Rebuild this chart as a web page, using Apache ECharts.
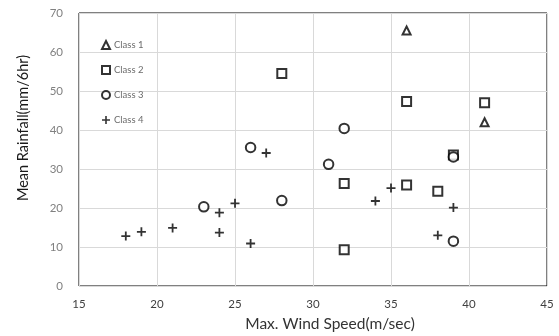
<!DOCTYPE html>
<html><head><meta charset="utf-8">
<script src="https://cdn.jsdelivr.net/npm/echarts@6/dist/echarts.min.js"></script>
<style>html,body{margin:0;padding:0;background:#fff}#c{width:559px;height:336px}</style>
</head><body><div id="c"></div>
<script>
const xTicks = [15, 20, 25, 30, 35, 40, 45];
const yTicks = [0, 10, 20, 30, 40, 50, 60, 70];
const class1 = [[36, 65.5], [41, 42]];
const class2 = [[28, 54.5], [36, 47.3], [41, 47], [39, 33.6], [32, 26.3], [36, 25.9], [38, 24.3], [32, 9.3]];
const class3 = [[26, 35.5], [32, 40.4], [31, 31.2], [39, 33.1], [28, 21.9], [23, 20.3], [39, 11.5]];
const class4 = [[27, 34.1], [25, 21.2], [24, 18.8], [24, 13.7], [26, 10.9], [18, 12.8], [19, 13.9], [21, 14.9], [34, 21.8], [35, 25.1], [39, 20.1], [38, 13]];

const crossPath = 'path://M4,0 H6 V4 H10 V6 H6 V10 H4 V6 H0 V4 H4 Z';
const FONT = 'Lato';
const chart = echarts.init(document.getElementById('c'));
const mk = (name, data, symbol, size, filled) => ({
  name, type: 'scatter', data, symbol, symbolSize: size,
  itemStyle: filled ? {color: '#000', borderWidth: 0} : {color: '#fff', borderColor: '#000', borderWidth: 2},
  emphasis: {disabled: true}
});
chart.setOption({
  animation: false,
  textStyle: {fontFamily: FONT},
  grid: {left: 79, right: 12, top: 13, bottom: 50, show: true, borderColor: '#000', borderWidth: 1, backgroundColor: 'transparent'},
  xAxis: {
    type: 'value', min: xTicks[0], max: xTicks[xTicks.length - 1], interval: 5,
    axisLine: {show: false}, axisTick: {show: false},
    splitLine: {show: true, lineStyle: {color: '#d9d9d9', width: 1}},
    axisLabel: {color: '#404040', fontSize: 11.5, margin: 12, fontFamily: FONT}
  },
  yAxis: {
    type: 'value', min: yTicks[0], max: yTicks[yTicks.length - 1], interval: 10,
    axisLine: {show: false}, axisTick: {show: false},
    splitLine: {show: true, lineStyle: {color: '#d9d9d9', width: 1}},
    axisLabel: {color: '#808080', fontSize: 11.5, margin: 16, fontFamily: FONT}
  },
  legend: {
    orient: 'vertical', left: 96, top: 35, itemGap: 15, itemWidth: 8, itemHeight: 8,
    textStyle: {fontSize: 9.5, color: '#6b6b6b', fontFamily: FONT, padding: [0, 0, 0, -1]},
    data: ['Class 1', 'Class 2', 'Class 3', 'Class 4']
  },
  graphic: [
    {type: 'text', x: 23, y: 128, rotation: Math.PI / 2,
     style: {text: 'Mean Rainfall(mm/6hr)', font: '14.5px ' + FONT, fill: '#1a1a1a', textAlign: 'center', textVerticalAlign: 'middle'}},
    {type: 'text', x: 330, y: 324,
     style: {text: 'Max. Wind Speed(m/sec)', font: '15.5px ' + FONT, fill: '#333', textAlign: 'center', textVerticalAlign: 'middle'}}
  ],
  series: [
    mk('Class 1', class1, 'triangle', 8, false),
    mk('Class 2', class2, 'rect', 9, false),
    mk('Class 3', class3, 'circle', 9.5, false),
    mk('Class 4', class4, crossPath, 9, true)
  ]
});
</script></body></html>
